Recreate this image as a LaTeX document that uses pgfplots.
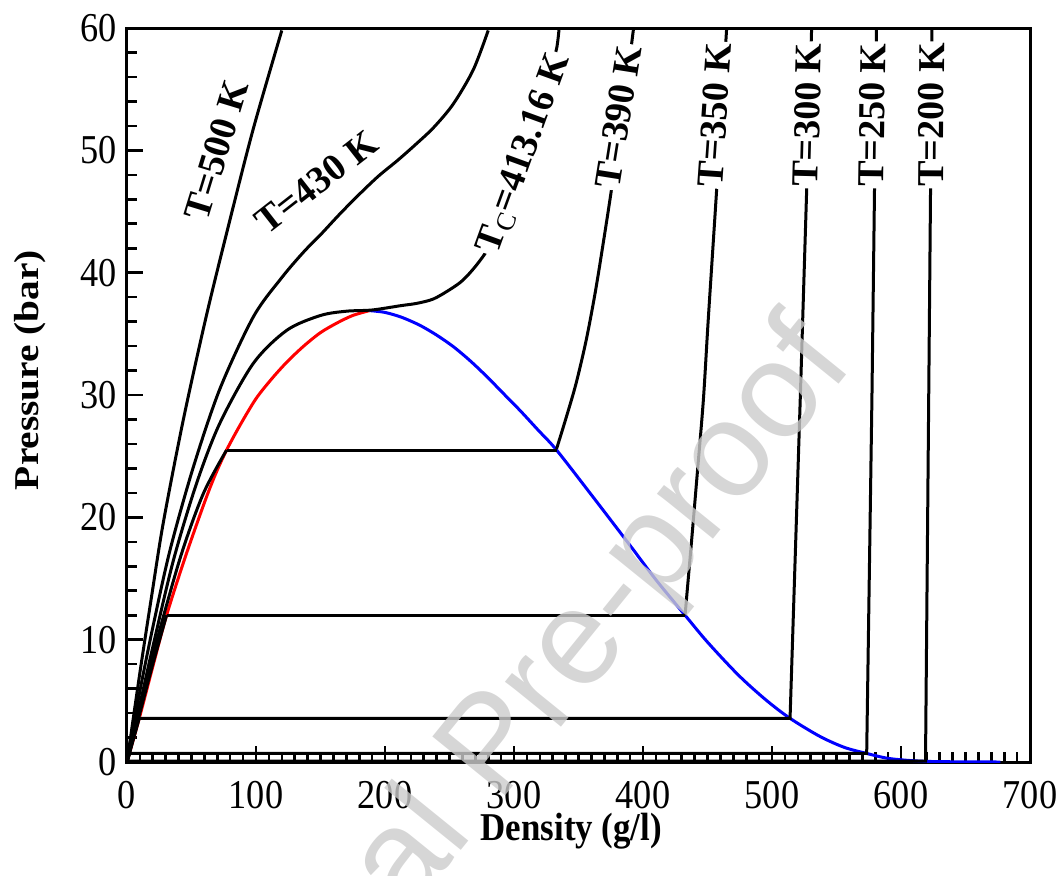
\documentclass[border=0pt]{standalone}
\usepackage{fontspec}
\setmainfont{Liberation Serif}
\newfontfamily\narrowfont[FakeStretch=0.885]{Liberation Serif}
\newfontfamily\widefont[FakeStretch=1.13]{Liberation Serif}
\newfontfamily\wmfont{Liberation Sans}
\usepackage{pgfplots}
\pgfplotsset{compat=1.18}
\tikzset{lbl/.style={font=\fontsize{19}{22}\selectfont\bfseries, fill=white, inner sep=1pt}}
\begin{document}
\begin{tikzpicture}
\begin{axis}[%
width=451.5pt,
height=367pt,
scale only axis,
xmin=0, xmax=700,
ymin=0, ymax=60,
xtick={0,100,...,700},
ytick={0,10,...,60},
minor x tick num=9,
minor y tick num=4,
tick align=inside,
xtick pos=bottom,
ytick pos=left,
major tick length=8pt,
minor tick length=5pt,
every tick/.style={black, line width=1.3pt},
axis line style={line width=1.5pt},
/pgf/number format/assume math mode=true,
ticklabel style={font=\narrowfont\fontsize{20.5}{22}\selectfont},
xticklabel style={yshift=-6.3pt},
yticklabel style={xshift=-1.8pt},
xlabel={Density (g/l)},
ylabel={Pressure (bar)},
xlabel style={font=\narrowfont\bfseries\fontsize{19.7}{22}\selectfont,
  at={(axis description cs:0.492,-0.094)}, anchor=center},
ylabel style={font=\widefont\bfseries\fontsize{17.4}{20}\selectfont,
  at={(axis description cs:-0.107,0.534)}, anchor=center},
]
% saturation dome
\addplot[red, line width=1.5pt, smooth] coordinates {
(0,0) (9.5,3.57) (20,7.8) (30.7,12.0) (45,16.7) (60,21.2) (68.5,23.5) (77.2,25.5)
(88,27.6) (100,29.7) (112,31.3) (124,32.7) (137,34.0) (150,35.1) (163,35.9)
(175,36.5) (188,36.9)};
\addplot[blue, line width=1.5pt, smooth] coordinates {
(188,36.9) (200,36.75) (213,36.35) (227,35.7) (240,34.9) (253,33.95) (266,32.8)
(279,31.5) (292,30.1) (305,28.7) (319,27.1) (333,25.5)
(361,21.7) (390,17.7) (410,14.9) (432.6,12.0) (450,9.8) (474,7.1) (495,5.1)
(514,3.57) (537,2.1) (556,1.2) (573.4,0.7) (590,0.3) (610,0.1) (630,0.03) (677,0)};
% T=500 K
\addplot[black, line width=1.5pt, smooth] coordinates {
(0,0) (10,7.3) (19,13.5) (28.2,19.6) (43.7,28.0) (61.8,36.6) (80,44.4) (98,51.8) (120,59.8)};
% T=430 K
\addplot[black, line width=1.5pt, smooth] coordinates {
(0,0) (10,5.8) (20,11.0) (33.3,17.3) (51.4,24.1) (72,30.5) (98,36.4) (120,39.6)
(137,41.7) (150,43.1) (165,44.8) (180,46.4) (195,47.9) (210,49.2) (225,50.6)
(238,51.9) (253,53.8) (268.5,56.6) (280,59.8)};
% T=413.16 K
\addplot[black, line width=1.5pt, smooth] coordinates {
(0,0) (10,4.7) (20,9.4) (36,16.5) (54,22.8) (72,27.7) (98,32.6) (124,35.3) (150,36.5)
(170,36.85) (190,36.95) (212,37.3) (225,37.5) (237.5,37.85) (250,38.6) (260,39.35)
(270,40.5) (280,42.0) (290,44.5) (300,47.6) (310,50.9) (320,54.1) (328,56.6)
(333,58.3) (335,60)};
% T=390 K
\addplot[black, line width=1.5pt, smooth] coordinates {
(0,0) (10,4.3) (20,8.7) (41,16.6) (59,21.9) (77.2,25.5)};
\addplot[black, line width=1.5pt] coordinates {(77.2,25.5) (333,25.5)};
\addplot[black, line width=1.5pt, smooth] coordinates {
(333,25.6) (340,28.0) (348,30.9) (356,34.5) (363,38.4) (369,42.3) (375,46.4)
(381,50.8) (387,55.3) (392.6,59.9)};
% T=350 K
\addplot[black, line width=1.5pt, smooth] coordinates {
(0,0) (10,4.0) (20,8.0) (30.7,12.0)};
\addplot[black, line width=1.5pt] coordinates {(30.7,12.0) (432.6,12.0)};
\addplot[black, line width=1.5pt, smooth] coordinates {
(432.6,12.0) (438,18.5) (442,23.5) (446.8,29.6) (450.6,36.2) (457.1,46.8) (464.8,59.9)};
% T=300 K
\addplot[black, line width=1.5pt] coordinates {
(0,0) (9.5,3.57) (514,3.57) (522,30) (530.7,59.9)};
% T=250 K
\addplot[black, line width=1.5pt] coordinates {
(0,0) (2,0.7) (573.4,0.7) (577.5,30) (581,59.9)};
% T=200 K
\addplot[black, line width=1.5pt] coordinates {
(0,0) (0.3,0.08) (619,0.08) (621.5,30) (624,59.9)};
% curve labels
\node[lbl, rotate=73] at (axis cs:69.5,50) {T=500 K};
\node[lbl, rotate=38] at (axis cs:147,47.4) {T=430 K};
\node[lbl, rotate=70] at (axis cs:308,49.7) {T\textsubscript{\mdseries C}=413.16 K};
\node[lbl, rotate=81] at (axis cs:381,52.75) {T=390 K};
\node[lbl, rotate=86] at (axis cs:455.5,52.9) {T=350 K};
\node[lbl, rotate=88.5] at (axis cs:527.4,52.9) {T=300 K};
\node[lbl, rotate=89.2] at (axis cs:577.6,52.9) {T=250 K};
\node[lbl, rotate=89.6] at (axis cs:623.5,52.9) {T=200 K};
\end{axis}
% watermark
\begin{scope}
\clip (-63.5pt,-56.5pt) rectangle (468pt,381pt);
\node[rotate=51, anchor=base west, inner sep=0pt, text=black!20, opacity=0.8,
  font=\wmfont\fontsize{68}{68}\selectfont] at (185.5pt,-21.5pt) {\llap{Journal }Pre-proof};
\end{scope}
\pgfresetboundingbox
\useasboundingbox (-63.5pt,-56.5pt) rectangle (468pt,381pt);
\end{tikzpicture}
\end{document}
